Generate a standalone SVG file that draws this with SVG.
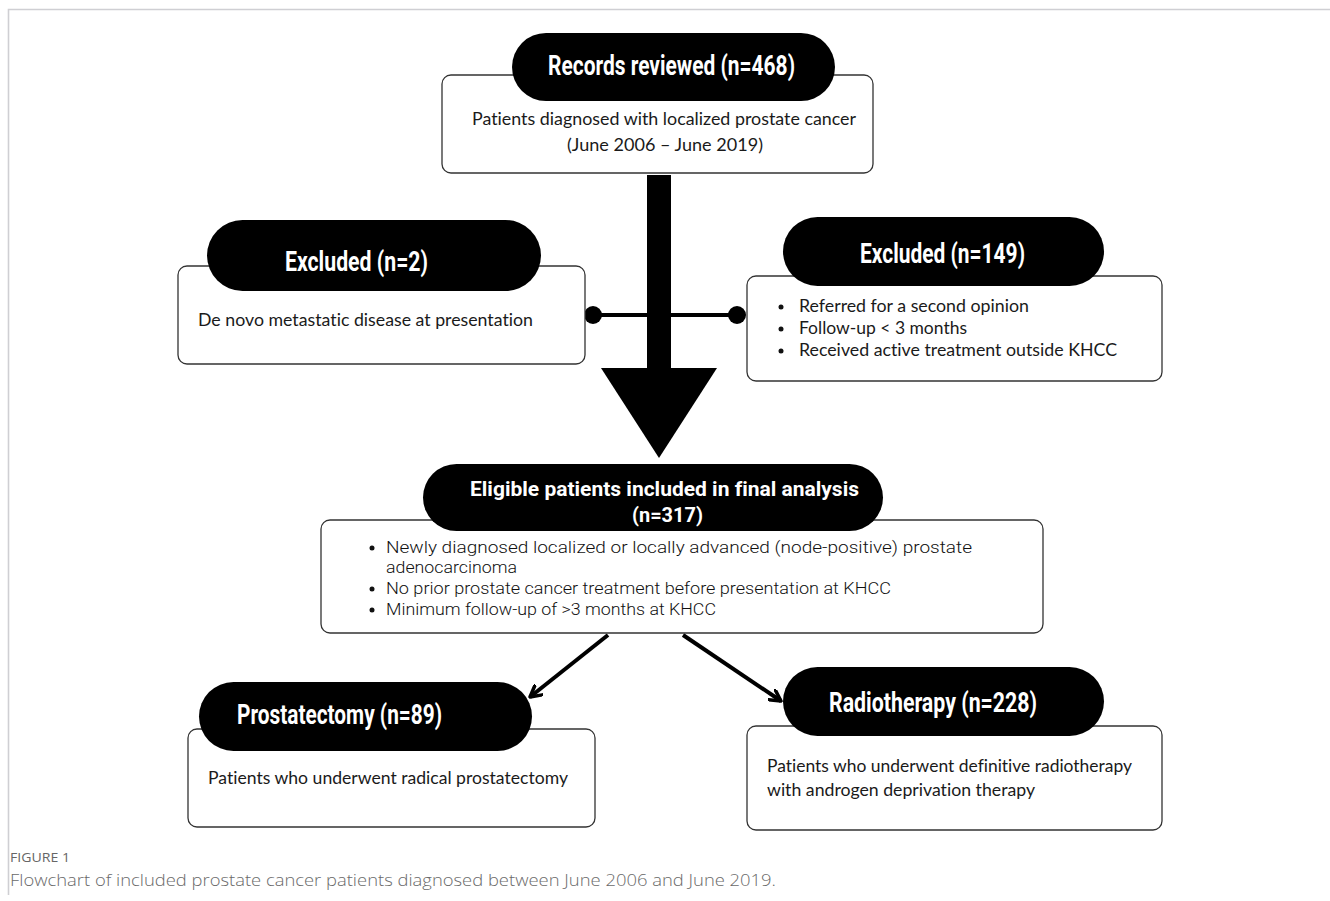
<svg xmlns="http://www.w3.org/2000/svg" width="1330" height="901" viewBox="0 0 1330 901">
<style>
text{font-variant-ligatures:none;font-feature-settings:"liga" 0,"dlig" 0}
.box{fill:#fff;stroke:#333;stroke-width:1.3}
.pill{fill:#000}
.hd{font-family:Roboto,"Liberation Sans",sans-serif;font-weight:700;fill:#fff;text-anchor:middle;font-size:27px}
.bd{font-family:Lato,"Liberation Sans",sans-serif;fill:#1a1a1a;font-size:17px}
.el{font-family:Roboto,"Liberation Sans",sans-serif;font-weight:300;fill:#111;font-size:17px}
.ln{stroke:#000;stroke-width:4;fill:none}
.cap1{font-family:"Open Sans","Liberation Sans",sans-serif;fill:#666;font-size:12px}
.cap2{font-family:"Open Sans","Liberation Sans",sans-serif;fill:#6a6a6a;font-size:17px;font-weight:300}
</style>
<defs>
<marker id="chev" viewBox="0 0 14 14" refX="12" refY="7" markerWidth="14" markerHeight="14" markerUnits="userSpaceOnUse" orient="auto">
<path d="M1,1 L12,7 L1,13" fill="none" stroke="#000" stroke-width="3.5" stroke-linecap="round" stroke-linejoin="round"/>
</marker>
</defs>
<rect width="1330" height="901" fill="#fff"/>
<path d="M8.5,895 V9.5 H1330" fill="none" stroke="#cfcfd3" stroke-width="1.6"/>

<g id="connectors">
<line class="ln" x1="593" y1="315" x2="737" y2="315"/>
<circle cx="593" cy="315" r="9"/>
<circle cx="737" cy="315" r="9"/>
<rect x="647" y="175" width="24" height="196" fill="#000"/>
<polygon points="601,368 717,368 659,458" fill="#000"/>
<line class="ln" x1="608" y1="635" x2="530" y2="697" marker-end="url(#chev)"/>
<line class="ln" x1="683" y1="635" x2="781" y2="701" marker-end="url(#chev)"/>
</g>

<g id="records">
<rect class="box" x="442" y="75" width="431" height="98" rx="9"/>
<rect class="pill" x="512" y="33" width="323" height="68" rx="34"/>
<text class="hd" x="671.5" y="75" textLength="247" lengthAdjust="spacingAndGlyphs">Records reviewed (n=468)</text>
<text class="bd" x="664" y="125" text-anchor="middle" textLength="384" lengthAdjust="spacingAndGlyphs">Patients diagnosed with localized prostate cancer</text>
<text class="bd" x="665" y="151" text-anchor="middle" textLength="196" lengthAdjust="spacingAndGlyphs">(June 2006 – June 2019)</text>
</g>

<g id="excluded-left">
<rect class="box" x="178" y="266" width="407" height="98" rx="9"/>
<rect class="pill" x="207" y="220" width="334" height="71" rx="35.5"/>
<text class="hd" x="356.5" y="271" textLength="143" lengthAdjust="spacingAndGlyphs">Excluded (n=2)</text>
<text class="bd" x="198" y="326" textLength="335" lengthAdjust="spacingAndGlyphs">De novo metastatic disease at presentation</text>
</g>

<g id="excluded-right">
<rect class="box" x="747" y="276" width="415" height="105" rx="9"/>
<rect class="pill" x="783" y="217" width="321" height="69" rx="34.5"/>
<text class="hd" x="942.5" y="263" textLength="165" lengthAdjust="spacingAndGlyphs">Excluded (n=149)</text>
<circle cx="781" cy="307" r="2.5" fill="#111"/>
<circle cx="781" cy="329" r="2.5" fill="#111"/>
<circle cx="781" cy="351" r="2.5" fill="#111"/>
<text class="bd" x="799" y="312" textLength="230" lengthAdjust="spacingAndGlyphs">Referred for a second opinion</text>
<text class="bd" x="799" y="334" textLength="168" lengthAdjust="spacingAndGlyphs">Follow-up &lt; 3 months</text>
<text class="bd" x="799" y="356" textLength="318" lengthAdjust="spacingAndGlyphs">Received active treatment outside KHCC</text>
</g>

<g id="eligible">
<rect class="box" x="321" y="520" width="722" height="113" rx="9"/>
<rect class="pill" x="423" y="464" width="460" height="67" rx="33.5"/>
<text class="hd" x="664.5" y="496" style="font-size:21px" textLength="389" lengthAdjust="spacingAndGlyphs">Eligible patients included in final analysis</text>
<text class="hd" x="667.5" y="522" style="font-size:21px" textLength="71" lengthAdjust="spacingAndGlyphs">(n=317)</text>
<circle cx="372" cy="548" r="2.5" fill="#111"/>
<circle cx="372" cy="589" r="2.5" fill="#111"/>
<circle cx="372" cy="610" r="2.5" fill="#111"/>
<text class="el" x="386" y="553" textLength="586" lengthAdjust="spacingAndGlyphs">Newly diagnosed localized or locally advanced (node-positive) prostate</text>
<text class="el" x="386" y="573" textLength="131" lengthAdjust="spacingAndGlyphs">adenocarcinoma</text>
<text class="el" x="386" y="594" textLength="505" lengthAdjust="spacingAndGlyphs">No prior prostate cancer treatment before presentation at KHCC</text>
<text class="el" x="386" y="615" textLength="330" lengthAdjust="spacingAndGlyphs">Minimum follow-up of &gt;3 months at KHCC</text>
</g>

<g id="prostatectomy">
<rect class="box" x="188" y="729" width="407" height="98" rx="9"/>
<rect class="pill" x="199" y="682" width="333" height="69" rx="34.5"/>
<text class="hd" x="339.5" y="724" textLength="205" lengthAdjust="spacingAndGlyphs">Prostatectomy (n=89)</text>
<text class="bd" x="208" y="784" textLength="360" lengthAdjust="spacingAndGlyphs">Patients who underwent radical prostatectomy</text>
</g>

<g id="radiotherapy">
<rect class="box" x="747" y="726" width="415" height="104" rx="9"/>
<rect class="pill" x="783" y="667" width="321" height="69" rx="34.5"/>
<text class="hd" x="933" y="712" textLength="208" lengthAdjust="spacingAndGlyphs">Radiotherapy (n=228)</text>
<text class="bd" x="767" y="772" textLength="365" lengthAdjust="spacingAndGlyphs">Patients who underwent definitive radiotherapy</text>
<text class="bd" x="767" y="796" textLength="268" lengthAdjust="spacingAndGlyphs">with androgen deprivation therapy</text>
</g>

<g id="caption">
<text class="cap1" x="10" y="862" textLength="60" lengthAdjust="spacingAndGlyphs">FIGURE 1</text>
<text class="cap2" x="10" y="886" textLength="766" lengthAdjust="spacingAndGlyphs">Flowchart of included prostate cancer patients diagnosed between June 2006 and June 2019.</text>
</g>
</svg>
